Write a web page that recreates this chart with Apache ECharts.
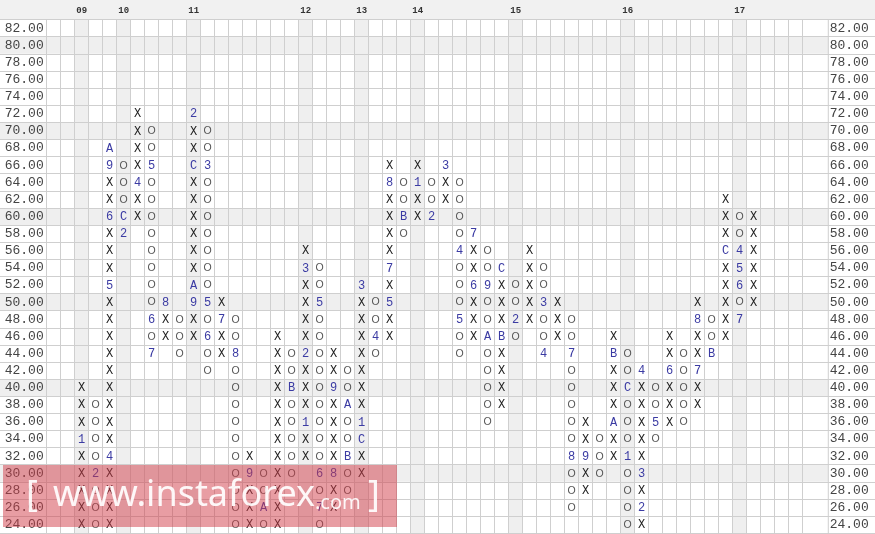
<!DOCTYPE html>
<html><head><meta charset="utf-8">
<script src="https://cdn.jsdelivr.net/npm/echarts@6/dist/echarts.min.js"></script>
<style>html,body{margin:0;padding:0;background:#fff}#c{width:875px;height:534px}</style>
</head><body><div id="c"></div>
<script>
// ---- data ----
const priceLabels = ['24.00','26.00','28.00','30.00','32.00','34.00','36.00','38.00','40.00','42.00',
  '44.00','46.00','48.00','50.00','52.00','54.00','56.00','58.00','60.00','62.00',
  '64.00','66.00','68.00','70.00','72.00','74.00','76.00','78.00','80.00','82.00'];
const shadedRows = ['30.00','40.00','50.00','60.00','70.00','80.00'];
const yearCols  = [2, 5, 10, 18, 22, 26, 33, 41, 49];
const yearNames = ['09','10','11','12','13','14','15','16','17'];
// lowest box price of each column and its boxes from bottom to top
const colStart = [null,null,24,24,24,58,60,44,46,44,
  46,42,44,24,24,24,24,30,32,24,
  26,28,30,44,46,58,60,60,62,44,
  46,36,38,46,48,44,46,26,28,30,
  32,24,24,34,36,36,38,44,46,48,
  50,null,null,null];
const colBoxes = ['','','XXXXX1XXX','OOO2OOOO','XXXX4XXXXXXXXX5XXX6XX9A','2COOO','XX4XXXX','7O6OOOOOOOO5OO','XX8','OOO',
  'XX9AXXXXXXCXX2','OO6O5OOOOOOO3OO','XX7X','OOOOOOOOOO8OO','XXX9X','OAOO','XXXXXXXXXXXX','OOOOOBOO','XX1XXX2XXXX3X','O7O6OOOOOOOOO5OO',
  'XX8XXXX9XX','OOBOOAOO','XXC1XXXXXXX3','O4OO','XX5X7XXXX8X','OBOO','XX1X','2OO','XX3','OO5OOO4OOOO',
  'XXX6XX7','OOOOOAOO9OO','XXXXBXXXC','O2OO','XXXXX','4OO3OO','XXX','OOO8OOOOO7OO','XX9XX','OOO',
  'XXAXXXBX','OOOO1OOOCOO','X2X3XXXXX4','O5OO','XXX6XX','OOOOO','XX7XX8X','BOO','XXXXXCXXX','7O654OO',
  'XXXXXX','','',''];

// ---- build ----
const colCats = colBoxes.map((_, i) => String(i));
const symData = [], symChars = [];
colBoxes.forEach((s, c) => {
  if (colStart[c] == null) return;
  const r0 = priceLabels.indexOf(colStart[c].toFixed(2));
  for (let k = 0; k < s.length; k++) { symData.push([c, r0 + k]); symChars.push(s[k]); }
});
const rowShadeData = shadedRows.map(p => [0, priceLabels.indexOf(p)]);
const colShadeData = yearCols.map(c => [c, 0]);

const GRID = '#cfcfcf', SHADE = '#efefef';
const WM = 'rgba(255,255,255,0.92)';
const chart = echarts.init(document.getElementById('c'));
const yBase = {
  type: 'category', data: priceLabels, boundaryGap: true,
  axisLine: {show: true, lineStyle: {color: GRID}},
  splitLine: {show: true, interval: 0, lineStyle: {color: GRID}},
};
chart.setOption({
  animation: false,
  backgroundColor: '#fff',
  grid: {left: 46.7, right: 72.3, top: 19.6, bottom: 0.8},
  xAxis: {
    type: 'category', position: 'top', data: colCats, boundaryGap: true,
    axisLine: {show: true, lineStyle: {color: GRID}}, axisTick: {show: false},
    axisLabel: {interval: 0, margin: 4, fontFamily: 'Liberation Mono', fontSize: 9, fontWeight: 'bold', color: '#333',
      formatter: (v, i) => { const k = yearCols.indexOf(i); return k >= 0 ? yearNames[k] : ''; }},
    splitLine: {show: true, interval: 0, lineStyle: {color: GRID}}
  },
  yAxis: [
    Object.assign({}, yBase, {position: 'left',
      axisTick: {show: true, interval: 0, length: 46.7, lineStyle: {color: GRID}},
      axisLabel: {interval: 0, margin: 3, fontFamily: 'Liberation Mono', fontSize: 13, color: '#444'}}),
    Object.assign({}, yBase, {position: 'right',
      axisTick: {show: true, interval: 0, length: 72.3, lineStyle: {color: GRID}},
      axisLabel: {interval: 0, margin: 27, align: 'left', fontFamily: 'Liberation Mono', fontSize: 13, color: '#444'}})
  ],
  series: [
    { type: 'custom', z: -2, data: rowShadeData, encode: {x: 0, y: 1},
      renderItem: function (params, api) {
        const cs = params.coordSys;
        const p = api.coord([0, api.value(1)]);
        const h = api.size([1, 1])[1];
        const children = [{type: 'rect', shape: {x: 0, y: p[1] - h / 2, width: cs.x + cs.width + 25.6, height: h},
          style: {fill: SHADE}}];
        if (params.dataIndex === 0) children.push({type: 'rect', shape: {x: 0, y: 0, width: 875, height: cs.y}, style: {fill: '#f1f1f1'}});
        return {type: 'group', children: children};
      }},
    { type: 'custom', z: -1, data: colShadeData, encode: {x: 0, y: 1},
      renderItem: function (params, api) {
        const cs = params.coordSys;
        const p = api.coord([api.value(0), 0]);
        const w = api.size([1, 1])[0];
        return {type: 'rect', shape: {x: p[0] - w / 2, y: cs.y, width: w, height: cs.height}, style: {fill: SHADE}};
      }},
    { type: 'custom', z: 5, data: symData, encode: {x: 0, y: 1},
      renderItem: function (params, api) {
        const p = api.coord([api.value(0), api.value(1)]);
        const ch = symChars[params.dataIndex];
        const isO = ch === 'O';
        const col = ch === 'X' ? '#222' : (isO ? '#555' : '#3b3ba3');
        return {type: 'text', x: p[0], y: p[1] + 0.5,
          style: {text: ch, fill: col, fontFamily: isO ? 'Liberation Sans' : 'Liberation Mono', fontSize: isO ? 10.5 : 12,
            align: 'center', verticalAlign: 'middle', textAlign: 'center', textVerticalAlign: 'middle'}};
      }}
  ],
  graphic: [
    {type: 'line', z: 50, shape: {x1: 828.3, y1: 19.6, x2: 828.3, y2: 534}, style: {stroke: GRID}},
    {type: 'rect', z: 100, shape: {x: 3, y: 465, width: 394, height: 62}, style: {fill: 'rgba(210,60,72,0.5)'}},
    {type: 'text', z: 101, x: 26, y: 496, style: {text: '[', fill: WM, fontFamily: 'Noto Sans', fontSize: 36, verticalAlign: 'middle'}},
    {type: 'text', z: 101, x: 53, y: 496, style: {text: 'www.instaforex', fill: WM, fontFamily: 'Noto Sans', fontSize: 36, verticalAlign: 'middle'}},
    {type: 'text', z: 101, x: 315, y: 503, style: {text: '.com', fill: WM, fontFamily: 'Noto Sans', fontSize: 20, verticalAlign: 'middle'}},
    {type: 'text', z: 101, x: 368, y: 496, style: {text: ']', fill: WM, fontFamily: 'Noto Sans', fontSize: 36, verticalAlign: 'middle'}}
  ]
});
</script></body></html>
